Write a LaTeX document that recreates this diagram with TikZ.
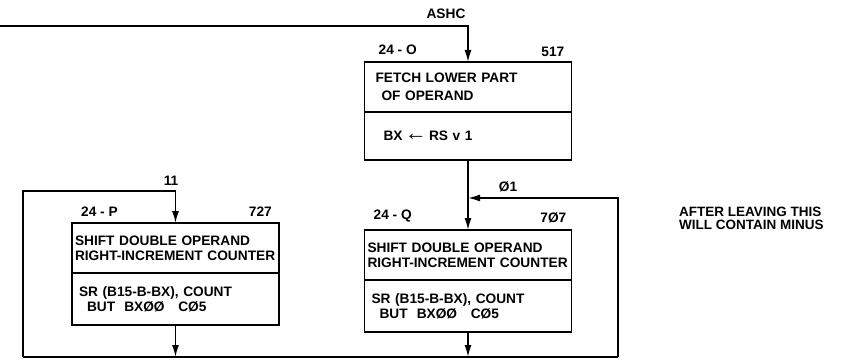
\documentclass[tikz,border=0pt]{standalone}
\usepackage{fontspec}
\setmainfont{Liberation Sans}
\usetikzlibrary{arrows.meta,positioning}

\begin{document}
\begin{tikzpicture}[
  x=1pt, y=-1pt,
  node distance=0pt,
  letters/.style={font=\bfseries\fontsize{13.7}{15}\selectfont},
  blockhead/.style={draw, line width=1.6pt, letters, outer sep=0pt,
               text width=201pt, inner xsep=3pt, minimum height=50pt, align=left},
  blockop/.style={blockhead, minimum height=52pt},
  tag/.style={letters, inner sep=1pt},
  arrow/.style={-{Latex[length=12pt,width=7pt]}, line width=1.6pt},
  wire/.style={line width=1.6pt}
]
\useasboundingbox (0,0) rectangle (842,361);

% fetch block
\node[blockhead, anchor=north west] (fetch) at (364.5,62) {\hspace*{8pt}FETCH LOWER PART\\[3pt]\hspace*{14pt}OF OPERAND\par\vspace*{8pt}};
\node[blockop, below=of fetch, minimum height=48pt] (fetchop) {\hspace*{16pt}BX\,{\fontsize{22}{15}\selectfont←}\,RS v 1\par\vspace*{20pt}};
\node[tag, above right=6pt and 13pt of fetch.north west] (fetchid) {24 - O};
\node[tag, above left=4pt and 6pt of fetch.north east] (fetchno) {517};

% shift blocks
\node[blockhead, below=70pt of fetchop] (shiftq) {SHIFT DOUBLE OPERAND\\RIGHT-INCREMENT COUNTER\par\vspace*{10pt}};
\node[blockop, below=of shiftq] (shiftqop) {\hspace*{4pt}SR (B15-B-BX), COUNT\\\hspace*{12pt}BUT\ \ BXØØ\ \ \ CØ5\par\vspace*{4pt}};
\node[tag, above right=7pt and 8pt of shiftq.north west] (shiftqid) {24 - Q};
\node[tag, above left=6pt and 4pt of shiftq.north east] (shiftqno) {7Ø7};

\node[blockhead, anchor=north west] (shiftp) at (72,223) {SHIFT DOUBLE OPERAND\\RIGHT-INCREMENT COUNTER\par\vspace*{10pt}};
\node[blockop, below=of shiftp] (shiftpop) {\hspace*{4pt}SR (B15-B-BX), COUNT\\\hspace*{12pt}BUT\ \ BXØØ\ \ \ CØ5\par\vspace*{4pt}};
\node[tag, above right=5pt and 8pt of shiftp.north west] (shiftpid) {24 - P};
\node[tag, above left=5pt and 6pt of shiftp.north east] (shiftpno) {727};

% entries and loop
\coordinate (ashcin) at (0,26);
\coordinate (lowleft) at (23,357);
\coordinate (lowright) at (618,357);
\coordinate (qjoin) at (fetchop.south |- 0,198);
\coordinate (pjoin) at (shiftp.north |- 0,191);
\node[tag] (ashc) at (446,14) {ASHC};
\node[tag] (pentry) at (171,181) {11};
\node[tag] (qentry) at (508,187) {Ø1};

\draw[arrow] (ashcin) -| (fetch.north);
\draw[arrow] (fetchop) -- (shiftq);
\draw[arrow] (lowright) |- (qjoin);
\draw[arrow] (lowleft) |- (pjoin) -- (shiftp.north);
\draw[wire] (lowleft) -- (lowright);
\draw[arrow] (shiftpop.south) -- (shiftpop.south |- lowleft);
\draw[arrow] (shiftqop.south) -- (shiftqop.south |- lowleft);

\node[tag, anchor=west, align=left, font=\bfseries\fontsize{13.5}{13}\selectfont] (exitnote) at (678,218) {AFTER LEAVING THIS\\WILL CONTAIN MINUS};
\end{tikzpicture}
\end{document}
